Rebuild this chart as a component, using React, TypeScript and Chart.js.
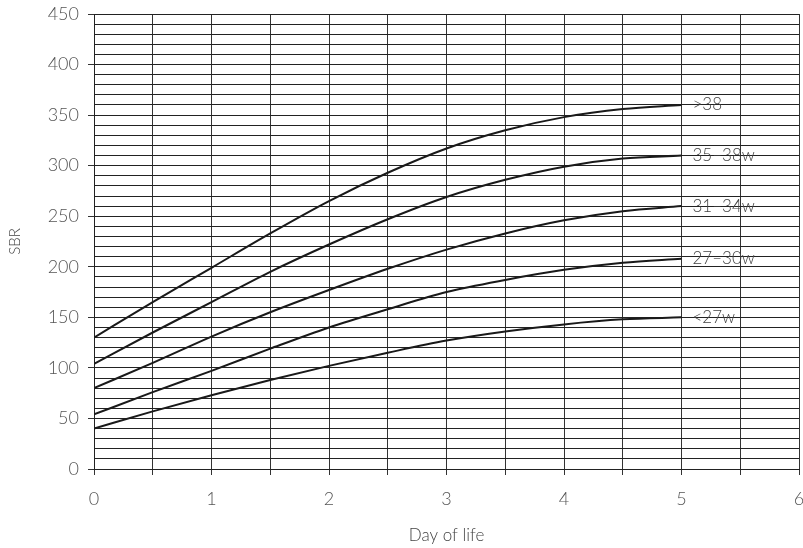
import React, { useEffect, useRef } from "react";
import { Chart, registerables } from "chart.js";

Chart.register(...registerables);

const days = [0, 0.5, 1, 1.5, 2, 2.5, 3, 3.5, 4, 4.5, 5];
const over38 = [130, 165, 199, 233, 265, 293, 317, 335, 348, 356, 360];
const w35_38 = [104, 135, 165, 195, 222, 247, 269, 286, 299, 307, 310];
const w31_34 = [80, 105, 131, 155, 177, 198, 217, 233, 246, 255, 260];
const w27_30 = [54, 76, 97, 119, 140, 158, 175, 187, 197, 204, 208];
const under27 = [40, 57, 73, 88, 102, 115, 127, 136, 143, 148, 150];
const seriesLabels = [">38", "35–38w", "31–34w", "27–30w", "<27w"];
const seriesValues = [over38, w35_38, w31_34, w27_30, under27];

const FONT = "Lato, 'Open Sans', sans-serif";

const endLabels = {
  id: "endLabels",
  afterDatasetsDraw(chart: any) {
    const ctx = chart.ctx;
    ctx.save();
    ctx.font = `300 17px ${FONT}`;
    ctx.fillStyle = "#444";
    ctx.textAlign = "left";
    ctx.textBaseline = "middle";
    chart.data.datasets.forEach((ds: any, i: number) => {
      const meta = chart.getDatasetMeta(i);
      const pt = meta.data[meta.data.length - 1];
      if (pt) ctx.fillText(ds.label, pt.x + 11, pt.y);
    });
    ctx.restore();
  },
};

export default function App() {
  const ref = useRef<HTMLCanvasElement>(null);
  useEffect(() => {
    if (!ref.current) return;
    const chart = new Chart(ref.current, {
      type: "line",
      data: {
        datasets: seriesValues.map((vals, i) => ({
          label: seriesLabels[i],
          data: days.map((d, j) => ({ x: d, y: vals[j] })),
          borderColor: "#1a1a1a",
          borderWidth: 2,
          pointRadius: 0,
          fill: false,
          cubicInterpolationMode: "monotone" as const,
        })),
      },
      options: {
        animation: false,
        responsive: false,
        maintainAspectRatio: false,
        layout: { padding: { top: 14, right: 4, left: 0, bottom: 0 } },
        plugins: { legend: { display: false }, tooltip: { enabled: false } },
        scales: {
          x: {
            type: "linear",
            min: 0,
            max: 6,
            afterFit: (s: any) => { s.height = 79; s.paddingLeft = 0; s.paddingRight = 0; },
            border: { color: "#222", width: 1 },
            grid: {
              color: "#333",
              lineWidth: 1,
              tickLength: 6,
              tickColor: "#333",
            },
            ticks: {
              stepSize: 0.5,
              padding: 13,
              color: "#555",
              font: { family: FONT, size: 18, weight: 300 },
              callback: (v: any) => (Number.isInteger(v) ? String(v) : ""),
              maxRotation: 0,
              autoSkip: false,
            },
            title: {
              display: true,
              text: "Day of life",
              color: "#444",
              font: { family: FONT, size: 17, weight: 300 },
              padding: { top: 0, bottom: 2 },
            },
          },
          y: {
            min: 0,
            max: 450,
            afterFit: (s: any) => { s.width = 94; s.paddingTop = 0; s.paddingBottom = 0; },
            border: { color: "#222", width: 1 },
            grid: {
              color: "#222",
              lineWidth: 1,
              tickLength: 6,
              tickColor: (c: any) => (c.tick && c.tick.value % 50 === 0 ? "#333" : "rgba(0,0,0,0)"),
            },
            ticks: {
              stepSize: 10,
              padding: 9,
              color: "#555",
              font: { family: FONT, size: 18, weight: 300 },
              callback: (v: any) => (v % 50 === 0 ? String(v) : ""),
              autoSkip: false,
            },
            title: {
              display: true,
              text: "SBR",
              color: "#444",
              font: { family: FONT, size: 15, weight: 300 },
              padding: { top: 6, bottom: 0 },
            },
          },
        },
      },
      plugins: [endLabels],
    });
    return () => chart.destroy();
  }, []);
  return (
    <div style={{ position: "fixed", left: 0, top: 0, width: 803, height: 548, background: "#fff" }}>
      <canvas ref={ref} width={803} height={548} style={{ display: "block" }} />
    </div>
  );
}
